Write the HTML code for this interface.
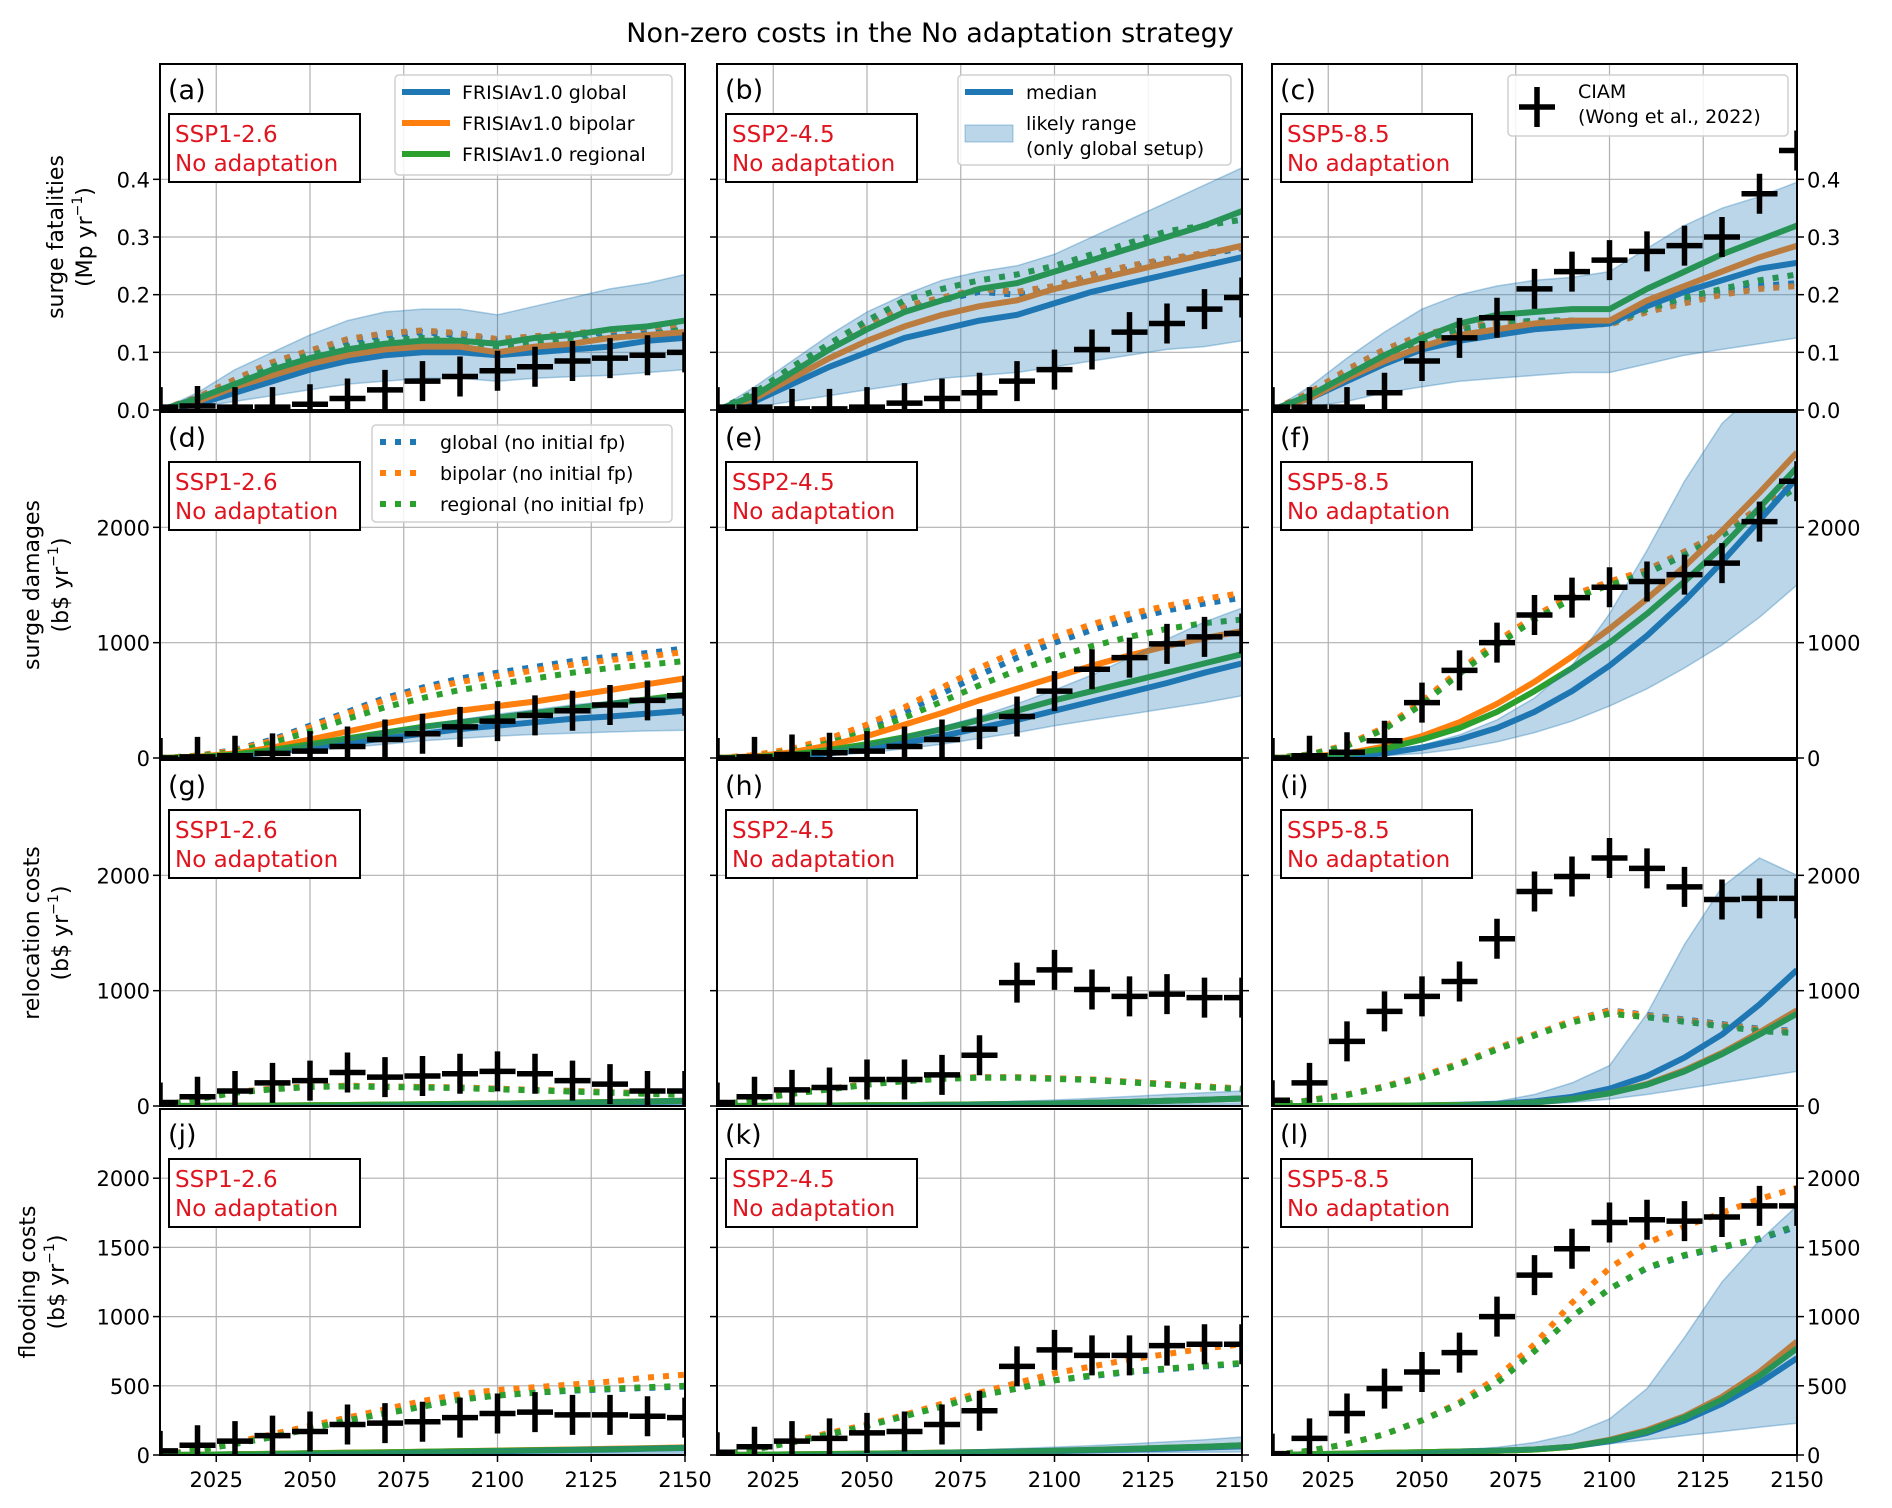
<!DOCTYPE html>
<html><head><meta charset="utf-8">
<style>
html,body{margin:0;padding:0;background:#fff;}
svg{display:block;font-family:"DejaVu Sans","Liberation Sans",sans-serif;}
</style></head>
<body>
<svg id="fig" xmlns="http://www.w3.org/2000/svg" width="1892" height="1508" viewBox="0 0 1892 1508">
<rect x="0" y="0" width="1892" height="1508" fill="#fff"/>
<text x="930" y="42" font-size="27" text-anchor="middle" fill="#000">Non-zero costs in the No adaptation strategy</text>
</svg>
<script>
const years = [2010,2020,2030,2040,2050,2060,2070,2080,2090,2100,2110,2120,2130,2140,2150];
const xTicks = [2025,2050,2075,2100,2125,2150];
const rowYMax = [0.6,3000,3000,2500];
const rowTicks0 = [0,0.1,0.2,0.3,0.4];
const rowTickLabels0 = ["0.0","0.1","0.2","0.3","0.4"];
const rowTicks1 = [0,1000,2000];
const rowTicks2 = [0,1000,2000];
const rowTicks3 = [0,500,1000,1500,2000];
const scenarios = ["SSP1-2.6","SSP2-4.5","SSP5-8.5"];
const panelLetters = ["a","b","c","d","e","f","g","h","i","j","k","l"];

// (a)
const a_glob=[0,0.01,0.03,0.05,0.07,0.085,0.095,0.10,0.10,0.095,0.10,0.105,0.11,0.12,0.125];
const a_bip=[0,0.015,0.04,0.06,0.08,0.095,0.105,0.11,0.11,0.10,0.11,0.115,0.125,0.13,0.135];
const a_reg=[0,0.02,0.045,0.07,0.09,0.105,0.115,0.12,0.12,0.115,0.125,0.13,0.14,0.145,0.155];
const a_gloD=[0,0.02,0.05,0.08,0.10,0.12,0.13,0.135,0.13,0.12,0.125,0.13,0.135,0.14,0.145];
const a_bipD=[0,0.022,0.053,0.083,0.103,0.123,0.133,0.138,0.133,0.123,0.128,0.133,0.138,0.143,0.148];
const a_regD=[0,0.02,0.045,0.075,0.095,0.11,0.12,0.125,0.12,0.11,0.115,0.12,0.125,0.13,0.14];
const a_lo=[0,0.005,0.015,0.025,0.035,0.045,0.05,0.055,0.055,0.05,0.055,0.058,0.06,0.065,0.07];
const a_hi=[0,0.03,0.07,0.10,0.13,0.155,0.17,0.175,0.175,0.165,0.18,0.195,0.21,0.22,0.235];
const a_ciam=[0.005,0.007,0.005,0.005,0.01,0.02,0.035,0.05,0.058,0.068,0.075,0.085,0.09,0.095,0.1];
// (b)
const b_glob=[0,0.015,0.045,0.075,0.10,0.125,0.14,0.155,0.165,0.185,0.205,0.22,0.235,0.25,0.265];
const b_bip=[0,0.02,0.055,0.09,0.12,0.145,0.165,0.18,0.19,0.21,0.225,0.24,0.255,0.27,0.285];
const b_reg=[0,0.025,0.065,0.105,0.14,0.17,0.19,0.21,0.22,0.24,0.26,0.28,0.30,0.32,0.345];
const b_gloD=[0,0.03,0.07,0.11,0.145,0.175,0.19,0.205,0.2,0.21,0.23,0.245,0.26,0.27,0.28];
const b_bipD=[0,0.03,0.07,0.11,0.15,0.18,0.195,0.21,0.205,0.215,0.235,0.25,0.262,0.272,0.282];
const b_regD=[0,0.03,0.075,0.115,0.155,0.19,0.21,0.225,0.235,0.25,0.27,0.29,0.31,0.32,0.33];
const b_lo=[0,0.005,0.015,0.025,0.035,0.045,0.055,0.06,0.065,0.075,0.085,0.095,0.105,0.11,0.12];
const b_hi=[0,0.04,0.085,0.13,0.17,0.2,0.225,0.24,0.25,0.27,0.3,0.33,0.36,0.39,0.42];
const b_ciam=[0.005,0.005,0.002,0.002,0.005,0.012,0.02,0.03,0.05,0.07,0.105,0.135,0.15,0.175,0.195];
// (c)
const c_glob=[0,0.02,0.05,0.08,0.105,0.12,0.13,0.14,0.145,0.15,0.18,0.205,0.225,0.245,0.255];
const c_bip=[0,0.02,0.055,0.085,0.11,0.13,0.14,0.15,0.155,0.155,0.19,0.215,0.24,0.265,0.285];
const c_reg=[0,0.025,0.06,0.095,0.125,0.15,0.165,0.17,0.175,0.175,0.21,0.24,0.27,0.295,0.32];
const c_gloD=[0,0.025,0.065,0.1,0.125,0.14,0.15,0.155,0.155,0.15,0.175,0.19,0.205,0.215,0.22];
const c_bipD=[0,0.03,0.07,0.105,0.13,0.145,0.15,0.152,0.152,0.148,0.17,0.185,0.2,0.21,0.215];
const c_regD=[0,0.025,0.06,0.095,0.12,0.14,0.148,0.155,0.155,0.15,0.175,0.195,0.21,0.225,0.235];
const c_lo=[0,0.005,0.015,0.03,0.04,0.05,0.055,0.06,0.065,0.065,0.08,0.095,0.105,0.115,0.125];
const c_hi=[0,0.04,0.09,0.135,0.175,0.2,0.215,0.225,0.23,0.24,0.28,0.32,0.35,0.37,0.395];
const c_ciam=[0.005,0.005,0.005,0.03,0.085,0.125,0.16,0.21,0.24,0.26,0.275,0.285,0.3,0.375,0.45];
// (d)
const d_glob=[0,5,20,50,90,130,170,210,250,280,310,340,360,385,410];
const d_bip=[0,10,40,90,160,230,300,360,410,450,490,540,590,640,690];
const d_reg=[0,8,30,70,120,170,220,270,310,350,390,430,470,510,550];
const d_gloD=[0,20,70,160,280,400,520,610,690,740,790,840,880,910,950];
const d_bipD=[0,20,65,150,265,385,500,590,660,710,760,810,850,880,920];
const d_regD=[0,15,55,130,230,340,440,520,590,640,690,740,780,810,840];
const d_lo=[0,3,10,30,60,90,120,150,170,190,205,215,225,235,240];
const d_hi=[0,8,30,70,120,175,230,280,330,380,420,460,490,520,540];
const d_ciam=[0,10,20,40,60,100,160,210,270,320,370,410,460,500,540];
// (e)
const e_glob=[0,5,15,40,80,130,190,260,330,410,490,570,650,740,820];
const e_bip=[0,15,50,110,190,290,390,500,600,700,800,890,970,1040,1100];
const e_reg=[0,8,30,70,120,180,250,330,410,500,580,660,740,820,900];
const e_gloD=[0,20,70,150,260,400,560,720,870,1000,1110,1200,1280,1340,1390];
const e_bipD=[0,25,80,170,290,440,610,780,930,1050,1160,1250,1320,1380,1430];
const e_regD=[0,15,60,130,230,350,490,630,760,870,970,1050,1120,1170,1200];
const e_lo=[0,2,8,20,45,80,120,170,220,280,330,380,430,480,540];
const e_hi=[0,8,30,70,120,190,270,360,470,590,720,870,1030,1180,1300];
const e_ciam=[0,10,30,45,60,100,160,250,360,580,770,870,990,1050,1080];
// (f)
const f_glob=[0,5,15,40,90,160,260,400,580,800,1060,1360,1700,2060,2430];
const f_bip=[0,10,40,100,190,310,470,660,880,1120,1380,1660,1970,2300,2650];
const f_reg=[0,8,30,80,160,260,400,580,780,1000,1250,1530,1830,2170,2520];
const f_gloD=[0,30,110,260,480,750,1000,1220,1400,1520,1620,1780,1950,2150,2380];
const f_bipD=[0,30,115,265,490,760,1010,1230,1410,1530,1630,1790,1960,2170,2400];
const f_regD=[0,28,105,250,465,730,980,1200,1380,1500,1600,1760,1930,2130,2350];
const f_lo=[0,2,8,20,40,80,140,220,320,450,600,780,980,1220,1500];
const f_hi=[0,5,20,50,110,200,330,520,800,1250,1800,2400,2900,3200,3300];
const f_ciam=[0,20,50,150,480,760,1000,1240,1390,1480,1530,1590,1690,2050,2400];
// (g)
const g_glob=[0,1,2,3,5,8,10,12,15,18,20,25,30,35,40];
const g_bip=[0,1,2,4,6,9,12,15,18,21,25,30,35,40,45];
const g_reg=[0,1,2,4,6,9,12,15,18,21,25,30,35,40,45];
const g_gloD=[0,60,120,150,170,175,170,165,160,150,140,130,120,110,100];
const g_bipD=[0,60,120,150,170,175,170,165,160,150,140,130,120,110,100];
const g_regD=[0,58,115,145,165,170,165,160,155,145,135,125,115,105,95];
const g_lo=[0,0,1,1,2,3,4,5,6,7,8,9,10,11,12];
const g_hi=[0,2,4,7,10,14,18,22,27,32,38,44,50,56,62];
const g_ciam=[30,80,130,200,220,290,250,260,280,300,280,220,190,130,130];
// (h)
const h_glob=[0,1,2,4,6,8,11,14,18,22,28,35,45,55,65];
const h_bip=[0,1,2,4,6,8,11,14,18,22,28,35,45,55,65];
const h_reg=[0,1,2,4,6,8,11,14,18,22,28,35,45,55,65];
const h_gloD=[0,60,110,150,190,220,240,250,250,240,230,210,190,170,150];
const h_bipD=[0,60,110,150,190,220,240,250,250,240,230,210,190,170,150];
const h_regD=[0,58,105,145,185,215,235,245,245,235,225,205,185,165,145];
const h_lo=[0,0,1,1,2,3,4,5,6,7,8,10,12,14,16];
const h_hi=[0,2,5,8,12,17,23,30,40,52,66,82,100,115,130];
const h_ciam=[30,80,140,160,230,230,270,440,1070,1180,1010,950,970,940,940];
// (i)
const i_glob=[0,0,0,2,5,10,20,40,80,150,260,420,620,880,1180];
const i_bip=[0,0,0,2,4,8,15,30,60,110,190,310,460,640,830];
const i_reg=[0,0,0,2,4,8,15,30,60,110,185,300,450,620,800];
const i_gloD=[0,50,100,170,260,370,500,620,740,830,790,750,710,670,650];
const i_bipD=[0,50,100,170,260,370,500,620,740,825,785,745,705,665,645];
const i_regD=[0,48,95,165,250,360,490,610,725,800,770,730,690,650,630];
const i_lo=[0,0,0,1,2,4,8,15,30,60,100,150,200,250,300];
const i_hi=[0,0,0,2,5,15,40,100,200,350,800,1400,1900,2150,2000];
const i_ciam=[50,200,560,820,950,1080,1450,1860,1990,2150,2060,1900,1790,1800,1800];
// (j)
const j_glob=[0,2,5,8,12,15,18,22,25,28,32,36,40,45,50];
const j_bip=[0,2,5,9,13,17,20,24,28,32,36,40,45,50,55];
const j_reg=[0,2,5,8,12,16,19,23,27,30,34,38,42,47,52];
const j_gloD=[0,35,80,130,190,250,300,350,400,430,450,465,475,485,495];
const j_bipD=[0,40,90,150,210,270,330,390,440,470,490,510,530,560,580];
const j_regD=[0,35,80,130,190,250,300,350,400,430,450,470,480,490,500];
const j_lo=[0,1,2,3,4,5,6,7,8,9,10,11,12,13,14];
const j_hi=[0,3,7,12,17,22,27,32,37,42,47,52,57,62,68];
const j_ciam=[30,70,100,140,170,220,230,240,270,300,310,290,290,280,270];
// (k)
const k_glob=[0,2,4,6,9,12,15,19,23,28,33,39,46,54,62];
const k_bip=[0,2,4,7,10,13,17,21,26,31,37,44,52,60,70];
const k_reg=[0,2,4,7,10,13,17,21,26,31,37,44,52,60,70];
const k_gloD=[0,40,90,150,210,280,350,430,480,540,570,600,620,640,660];
const k_bipD=[0,40,100,160,220,290,370,450,520,590,640,690,730,770,800];
const k_regD=[0,40,90,150,210,280,350,430,480,540,575,605,625,645,665];
const k_lo=[0,1,2,3,4,5,6,8,10,12,14,16,18,20,22];
const k_hi=[0,3,7,12,17,23,30,38,47,57,68,80,95,110,130];
const k_ciam=[20,60,100,120,160,170,220,320,640,760,720,720,790,800,800];
// (l)
const l_glob=[0,5,10,15,20,25,30,40,60,100,160,250,370,520,700];
const l_bip=[0,5,10,15,20,25,30,40,60,110,180,280,420,600,820];
const l_reg=[0,5,10,15,20,25,30,40,60,105,170,270,400,570,770];
const l_gloD=[0,30,80,150,250,370,520,750,1000,1200,1350,1440,1500,1560,1650];
const l_bipD=[0,30,80,150,250,380,560,800,1100,1350,1530,1650,1750,1850,1930];
const l_regD=[0,30,80,150,250,370,520,750,1000,1200,1355,1445,1505,1565,1660];
const l_lo=[0,2,5,8,12,15,20,30,50,80,110,140,170,200,230];
const l_hi=[0,5,10,18,26,38,55,90,150,260,480,850,1250,1550,1800];
const l_ciam=[10,120,300,480,600,740,1000,1300,1490,1680,1700,1690,1720,1800,1800];

const panelSeries = [
 [a_glob,a_bip,a_reg,a_gloD,a_bipD,a_regD,a_lo,a_hi,a_ciam],
 [b_glob,b_bip,b_reg,b_gloD,b_bipD,b_regD,b_lo,b_hi,b_ciam],
 [c_glob,c_bip,c_reg,c_gloD,c_bipD,c_regD,c_lo,c_hi,c_ciam],
 [d_glob,d_bip,d_reg,d_gloD,d_bipD,d_regD,d_lo,d_hi,d_ciam],
 [e_glob,e_bip,e_reg,e_gloD,e_bipD,e_regD,e_lo,e_hi,e_ciam],
 [f_glob,f_bip,f_reg,f_gloD,f_bipD,f_regD,f_lo,f_hi,f_ciam],
 [g_glob,g_bip,g_reg,g_gloD,g_bipD,g_regD,g_lo,g_hi,g_ciam],
 [h_glob,h_bip,h_reg,h_gloD,h_bipD,h_regD,h_lo,h_hi,h_ciam],
 [i_glob,i_bip,i_reg,i_gloD,i_bipD,i_regD,i_lo,i_hi,i_ciam],
 [j_glob,j_bip,j_reg,j_gloD,j_bipD,j_regD,j_lo,j_hi,j_ciam],
 [k_glob,k_bip,k_reg,k_gloD,k_bipD,k_regD,k_lo,k_hi,k_ciam],
 [l_glob,l_bip,l_reg,l_gloD,l_bipD,l_regD,l_lo,l_hi,l_ciam]
];
const rowTicks=[rowTicks0,rowTicks1,rowTicks2,rowTicks3];
const rowLabels1=["surge fatalities","surge damages","relocation costs","flooding costs"];
const rowLabels2=["(Mp yr","(b$ yr","(b$ yr","(b$ yr"];
const rowLabelX=[57,33,33,29];

const NS="http://www.w3.org/2000/svg";
const svg=document.getElementById('fig');
const colX=[160,717,1272], PW=525;
const rowY=[64,412,760,1109], PH=346;
const BLUE="#1f77b4", ORANGE="#ff7f0e", GREEN="#2ca02c", RED="#e0141e";
function el(tag,attrs,parent){const e=document.createElementNS(NS,tag);for(const k in attrs)e.setAttribute(k,attrs[k]);(parent||svg).appendChild(e);return e;}
function fmt(v,r){return r===0?rowTickLabels0[rowTicks0.indexOf(v)]:String(v);}

const defs=el('defs',{});
for(let r=0;r<4;r++)for(let c=0;c<3;c++){
  const p=r*3+c, x0=colX[c], y0=rowY[r];
  const xs=v=>x0+(v-2010)/140*PW;
  const ys=v=>y0+PH-v/rowYMax[r]*PH;
  const cp=el('clipPath',{id:'cp'+p},defs);
  el('rect',{x:x0,y:y0,width:PW,height:PH},cp);
  const g=el('g',{});
  
  
  xTicks.forEach(t=>{const l=el('line',{x1:xs(t),x2:xs(t),y1:y0,y2:y0+PH,stroke:'#b0b0b0','stroke-width':1.2},g);
    });
  rowTicks[r].forEach(t=>{const l=el('line',{x1:x0,x2:x0+PW,y1:ys(t),y2:ys(t),stroke:'#b0b0b0','stroke-width':1.2},g);
    });
  const S=panelSeries[p];
  const dg=el('g',{'clip-path':'url(#cp'+p+')'},g);
  const path=arr=>arr.map((v,i)=>(i?'L':'M')+xs(years[i]).toFixed(1)+','+ys(v).toFixed(1)).join('');
  const names=['line-global','line-bipolar','line-regional','dotted-global','dotted-bipolar','dotted-regional'];
  const cols=[BLUE,ORANGE,GREEN,BLUE,ORANGE,GREEN];
  [3,4,5,0,1,2].forEach(k=>{
    const pa=el('path',{d:path(S[k]),fill:'none',stroke:cols[k],'stroke-width':6,'stroke-linejoin':'round'},dg);
    if(k>=3)pa.setAttribute('stroke-dasharray','6 9');
    
  });
  let bd=path(S[7]);
  for(let i=years.length-1;i>=0;i--)bd+='L'+xs(years[i]).toFixed(1)+','+ys(S[6][i]).toFixed(1);
  const band=el('path',{d:bd+'Z',fill:BLUE,'fill-opacity':0.3,stroke:BLUE,'stroke-opacity':0.35,'stroke-width':1.5},dg);
  
  S[8].forEach((v,i)=>{
    const cx=xs(years[i]),cy=ys(v);
    const m=el('path',{d:`M${cx-18},${cy}H${cx+18}M${cx},${cy-20}V${cy+20}`,stroke:'#000','stroke-width':5.5,fill:'none'},dg);
    
  });
  const fr=el('rect',{x:x0,y:y0,width:PW,height:PH,fill:'none',stroke:'#000','stroke-width':2},g);
  
  rowTicks[r].forEach(t=>{
    if(c===0||c===1) el('line',{x1:x0-7,x2:x0,y1:ys(t),y2:ys(t),stroke:'#000','stroke-width':1.5},g);
    if(c===2||c===1) el('line',{x1:x0+PW,x2:x0+PW+7,y1:ys(t),y2:ys(t),stroke:'#000','stroke-width':1.5},g);
    if(c===0){const tx=el('text',{x:x0-10,y:ys(t)+8,'font-size':21,'text-anchor':'end'},g);tx.textContent=fmt(t,r);
      }
    if(c===2){const tx=el('text',{x:x0+PW+10,y:ys(t)+8,'font-size':21,'text-anchor':'start'},g);tx.textContent=fmt(t,r);
      }
  });
  if(r===3){xTicks.forEach(t=>{
    el('line',{x1:xs(t),x2:xs(t),y1:y0+PH,y2:y0+PH+7,stroke:'#000','stroke-width':1.5},g);
    const tx=el('text',{x:xs(t),y:y0+PH+32,'font-size':21,'text-anchor':'middle'},g);tx.textContent=t;
    });}
  const pl=el('text',{x:x0+8,y:y0+35,'font-size':27},g);pl.textContent='('+panelLetters[p]+')';
  
  const sb=el('g',{},g);
  
  el('rect',{x:x0+9,y:y0+50,width:191,height:68,fill:'#fff',stroke:'#000','stroke-width':2},sb);
  const t1=el('text',{x:x0+15,y:y0+78,'font-size':23,fill:RED},sb);t1.textContent=scenarios[c];
  const t2=el('text',{x:x0+15,y:y0+107,'font-size':23,fill:RED},sb);t2.textContent='No adaptation';
  if(c===0){
    const cy=y0+PH/2;
    const yl=el('text',{x:rowLabelX[r],y:cy,'font-size':22,'text-anchor':'middle',transform:`rotate(-90 ${rowLabelX[r]} ${cy})`,'dominant-baseline':'middle'},svg);
    yl.textContent=rowLabels1[r];
    const x2=rowLabelX[r]+29;
    const yl2=el('text',{x:x2,y:cy,'font-size':22,'text-anchor':'middle',transform:`rotate(-90 ${x2} ${cy})`,'dominant-baseline':'middle'},svg);
    yl2.textContent=rowLabels2[r];
    const sup=el('tspan',{'font-size':14,dy:-8},yl2);sup.textContent='−1';
    const cl=el('tspan',{dy:8},yl2);cl.textContent=')';
    
  }
}
function legendBox(x,y,w,h,name){const b=el('rect',{x,y,width:w,height:h,rx:4,fill:'#fff','fill-opacity':0.85,stroke:'#d0d0d0','stroke-width':1.5});
  }
function legText(x,y,s){const t=el('text',{x,y,'font-size':19});t.textContent=s;return t;}
legendBox(395,75,277,100,'legend-frisia');
[['FRISIAv1.0 global',BLUE],['FRISIAv1.0 bipolar',ORANGE],['FRISIAv1.0 regional',GREEN]].forEach((e,i)=>{
  const y=92+i*31; el('line',{x1:402,x2:450,y1:y,y2:y,stroke:e[1],'stroke-width':6}); legText(462,y+7,e[0]);});
legendBox(958,75,273,90,'legend-median-range');
el('line',{x1:965,x2:1013,y1:92,y2:92,stroke:BLUE,'stroke-width':6}); legText(1026,99,'median');
el('rect',{x:965,y:125,width:48,height:17,fill:BLUE,'fill-opacity':0.3,stroke:BLUE,'stroke-opacity':0.4});
legText(1026,130,'likely range'); legText(1026,155,'(only global setup)');
legendBox(1508,75,280,61,'legend-ciam');
el('path',{d:'M1519,107H1555M1537,87V127',stroke:'#000','stroke-width':5.5});
legText(1578,98,'CIAM'); legText(1578,123,'(Wong et al., 2022)');
legendBox(372,425,300,97,'legend-no-initial-fp');
[['global (no initial fp)',BLUE],['bipolar (no initial fp)',ORANGE],['regional (no initial fp)',GREEN]].forEach((e,i)=>{
  const y=442+i*31; el('line',{x1:380,x2:424,y1:y,y2:y,stroke:e[1],'stroke-width':6,'stroke-dasharray':'6 9'}); legText(440,y+7,e[0]);});
</script>
</body></html>
